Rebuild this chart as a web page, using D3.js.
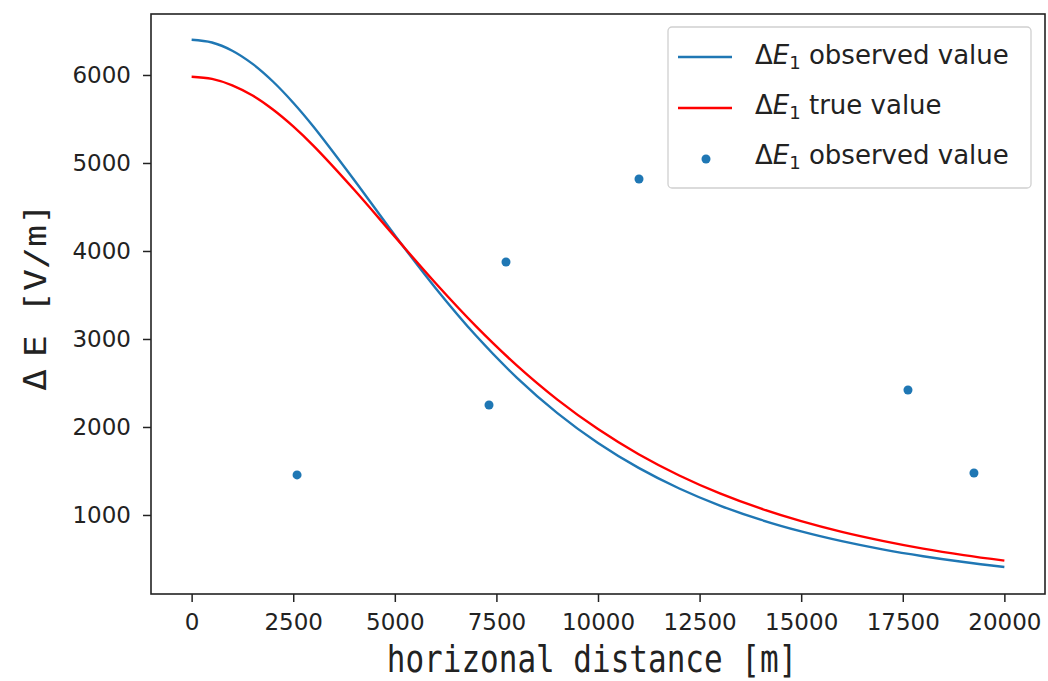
<!DOCTYPE html>
<html>
<head>
<meta charset="utf-8">
<script src="https://cdn.jsdelivr.net/npm/d3@7"></script>
<style>
  body { margin: 0; background: #fff; }
  svg  { display: block; }
  .tick text { font-family: "DejaVu Sans", sans-serif; font-size: 23px; fill: #222; }
  .axis-label { font-family: "DejaVu Sans Mono", monospace; fill: #222; }
  .legend text { font-family: "DejaVu Sans", sans-serif; font-size: 26px; fill: #222; }
</style>
</head>
<body>
<svg width="1048" height="681"></svg>
<script>
// =====================================================================
// Values read off the reference picture. Curves are sampled finer near
// the flat top, the scatter points are the individual observations.
// =====================================================================
const distance = [0, 500, 1000, 1500, 2000, 2500, 3000, 4000, 5000, 6000, 7000, 8000,
                  9000, 10000, 11000, 12000, 13000, 14000, 15000, 16000, 17000,
                  18000, 19000, 20000];

const observedCurve = [6400, 6369, 6276, 6126, 5926, 5685, 5412, 4807, 4179, 3580, 3036,
                       2562, 2158, 1818, 1535, 1301, 1107, 946, 813, 702, 609, 531,
                       465, 409];

const trueCurve = [5980, 5956, 5883, 5766, 5608, 5416, 5195, 4696, 4163, 3636, 3143,
                   2700, 2311, 1976, 1690, 1449, 1245, 1074, 930, 808, 706, 618,
                   544, 481];

const obsX = [2594, 7318, 7736, 11009, 17628, 19252];
const obsY = [1455, 2250, 3875, 4818, 2420, 1477];

const xTicks = [0, 2500, 5000, 7500, 10000, 12500, 15000, 17500, 20000];
const yTicks = [1000, 2000, 3000, 4000, 5000, 6000];

const BLUE = "#1f77b4",
      RED  = "#ff0000";

// =====================================================================
// Plot frame and scales
// =====================================================================
let svg     = d3.select("svg"),
    pLeft   = 151,
    pRight  = 1045,
    pTop    = 14,
    pBottom = 594,
    x       = d3.scaleLinear().domain([-1000, 21000]).range([pLeft, pRight]),
    y       = d3.scaleLinear().domain([102, 6693]).range([pBottom, pTop]);

let line = d3.line()
  .x(d => x(d[0]))
  .y(d => y(d[1]))
  .curve(d3.curveCatmullRom.alpha(0.5));

svg.append("path")
  .datum(distance.map((d, i) => [d, observedCurve[i]]))
  .attr("fill", "none")
  .attr("stroke", BLUE)
  .attr("stroke-width", 2.4)
  .attr("d", line);

svg.append("path")
  .datum(distance.map((d, i) => [d, trueCurve[i]]))
  .attr("fill", "none")
  .attr("stroke", RED)
  .attr("stroke-width", 2.4)
  .attr("d", line);

svg.append("g").selectAll("circle")
  .data(obsX.map((d, i) => [d, obsY[i]]))
  .enter().append("circle")
    .attr("cx", d => x(d[0]))
    .attr("cy", d => y(d[1]))
    .attr("r", 4.5)
    .attr("fill", BLUE);

// Axes
let xAxis = svg.append("g")
  .attr("transform", `translate(0,${pBottom})`)
  .call(d3.axisBottom(x).tickValues(xTicks).tickSize(8).tickPadding(12).tickFormat(d3.format("d")));

let yAxis = svg.append("g")
  .attr("transform", `translate(${pLeft},0)`)
  .call(d3.axisLeft(y).tickValues(yTicks).tickSize(8).tickPadding(12).tickFormat(d3.format("d")));

[xAxis, yAxis].forEach(a => {
  a.select(".domain").remove();
  a.selectAll(".tick line").attr("stroke", "#222").attr("stroke-width", 1.5);
});

// Frame
svg.append("rect")
  .attr("x", pLeft).attr("y", pTop)
  .attr("width", pRight - pLeft).attr("height", pBottom - pTop)
  .attr("fill", "none")
  .attr("stroke", "#222")
  .attr("stroke-width", 1.6);

// Axis labels
svg.append("text")
  .attr("class", "axis-label")
  .attr("text-anchor", "middle")
  .attr("font-size", 31)
  .attr("transform", `translate(${(pLeft + pRight) / 2 - 6},672) scale(1,1.18)`)
  .text("horizonal distance [m]");

let yLabel = svg.append("text")
  .attr("class", "axis-label")
  .attr("text-anchor", "middle")
  .attr("font-size", 31)
  .attr("transform", "translate(46,297) rotate(-90) scale(1.18,1)");
yLabel.append("tspan").text("Δ");
yLabel.append("tspan").attr("dx", 10).text("E [V/m]");

// =====================================================================
// Legend
// =====================================================================
let legend = svg.append("g").attr("class", "legend");

legend.append("rect")
  .attr("x", 668).attr("y", 27)
  .attr("width", 363).attr("height", 161)
  .attr("rx", 4)
  .attr("fill", "#fff").attr("fill-opacity", 0.8)
  .attr("stroke", "#d0d0d0").attr("stroke-width", 1.3);

let entries = [
  {label: " observed value", kind: "line", color: BLUE, cy: 57,  base: 64},
  {label: " true value",     kind: "line", color: RED,  cy: 108, base: 114},
  {label: " observed value", kind: "dot",  color: BLUE, cy: 159, base: 164}
];

entries.forEach(e => {
  if (e.kind === "line") {
    legend.append("line")
      .attr("x1", 678).attr("x2", 732)
      .attr("y1", e.cy).attr("y2", e.cy)
      .attr("stroke", e.color).attr("stroke-width", 2.4);
  } else {
    legend.append("circle")
      .attr("cx", 706).attr("cy", e.cy).attr("r", 4.5)
      .attr("fill", e.color);
  }
  let t = legend.append("text")
    .attr("x", 755)
    .attr("y", e.base);
  t.append("tspan").text("Δ");
  t.append("tspan").attr("font-style", "italic").text("E");
  t.append("tspan").attr("font-size", 18).attr("dy", 5).text("1");
  t.append("tspan").attr("dy", -5).text(e.label);
});
</script>
</body>
</html>
